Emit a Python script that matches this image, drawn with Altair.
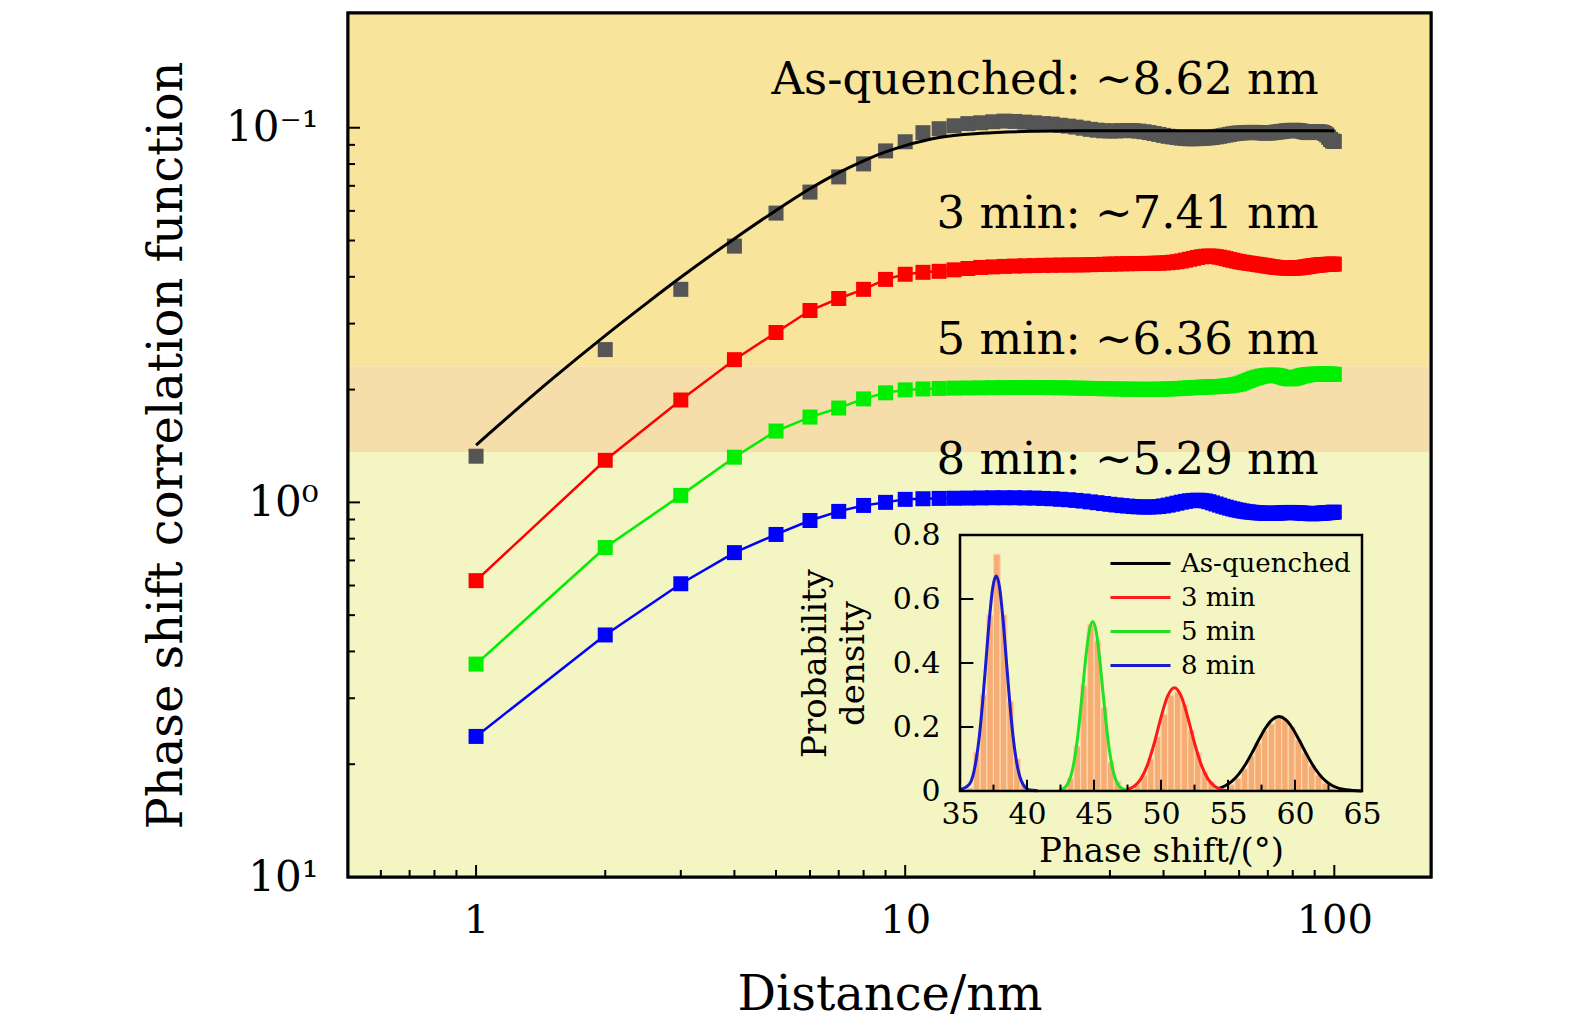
import altair as alt
import pandas as pd

FONT = "DejaVu Serif"

# ---------------- main panel data ----------------
SERIES = ["As-quenched", "3 min", "5 min", "8 min"]
SQUARE_COLORS = ["#555555", "#ff0000", "#00ee00", "#0000ff"]
LINE_COLORS = ["#000000", "#ff0000", "#00ee00", "#0000ff"]

DIST = list(range(1, 101))

AQ = [0.753, 0.391, 0.270, 0.207, 0.169, 0.1485, 0.1353, 0.1249, 0.1153, 0.1090,
      0.1031, 0.1006, 0.0988, 0.0975, 0.0970, 0.0964, 0.0960, 0.0962, 0.0966, 0.0970,
      0.0975, 0.0978, 0.0985, 0.0990, 0.0996, 0.1003, 0.1010, 0.1015, 0.1019, 0.1020,
      0.1020, 0.1018, 0.1017, 0.1018, 0.1021, 0.1025, 0.1030, 0.1036, 0.1042, 0.1048,
      0.1054, 0.1058, 0.1062, 0.1066, 0.1068, 0.1070, 0.1070, 0.1069, 0.1068, 0.1066,
      0.1064, 0.1062, 0.1058, 0.1054, 0.1050, 0.1046, 0.1042, 0.1038, 0.1035, 0.1033,
      0.1032, 0.1031, 0.1030, 0.1029, 0.1029, 0.1030, 0.1031, 0.1032, 0.1033, 0.1033,
      0.1032, 0.1030, 0.1028, 0.1026, 0.1024, 0.1022, 0.1020, 0.1018, 0.1017, 0.1016,
      0.1016, 0.1017, 0.1019, 0.1022, 0.1025, 0.1028, 0.1030, 0.1030, 0.1028, 0.1026,
      0.1025, 0.1025, 0.1027, 0.1030, 0.1036, 0.1045, 0.1060, 0.1075, 0.1085, 0.1088]

M3 = [1.618, 0.772, 0.533, 0.416, 0.352, 0.3075, 0.2856, 0.2700, 0.2540, 0.2461,
      0.2432, 0.2417, 0.2395, 0.2375, 0.2360, 0.2352, 0.2345, 0.2340, 0.2336, 0.2333,
      0.2330, 0.2328, 0.2326, 0.2325, 0.2324, 0.2323, 0.2320, 0.2318, 0.2315, 0.2312,
      0.2310, 0.2308, 0.2306, 0.2305, 0.2304, 0.2303, 0.2302, 0.2300, 0.2298, 0.2296,
      0.2292, 0.2286, 0.2278, 0.2268, 0.2256, 0.2244, 0.2232, 0.2220, 0.2210, 0.2204,
      0.2200, 0.2202, 0.2208, 0.2216, 0.2225, 0.2236, 0.2247, 0.2258, 0.2268, 0.2277,
      0.2285, 0.2292, 0.2298, 0.2304, 0.2310, 0.2316, 0.2322, 0.2328, 0.2334, 0.2340,
      0.2346, 0.2352, 0.2357, 0.2361, 0.2364, 0.2366, 0.2368, 0.2369, 0.2370, 0.2370,
      0.2369, 0.2367, 0.2364, 0.2360, 0.2355, 0.2350, 0.2345, 0.2340, 0.2336, 0.2332,
      0.2328, 0.2325, 0.2322, 0.2320, 0.2318, 0.2316, 0.2315, 0.2314, 0.2313, 0.2312]

M5 = [2.702, 1.320, 0.958, 0.7575, 0.645, 0.592, 0.560, 0.5294, 0.510, 0.5009,
      0.4980, 0.4965, 0.4955, 0.4950, 0.4945, 0.4940, 0.4938, 0.4936, 0.4935, 0.4935,
      0.4937, 0.4940, 0.4944, 0.4948, 0.4953, 0.4958, 0.4963, 0.4968, 0.4972, 0.4976,
      0.4980, 0.4983, 0.4986, 0.4988, 0.4990, 0.4991, 0.4991, 0.4990, 0.4988, 0.4985,
      0.4981, 0.4976, 0.4970, 0.4963, 0.4955, 0.4947, 0.4940, 0.4933, 0.4927, 0.4922,
      0.4918, 0.4914, 0.4910, 0.4905, 0.4898, 0.4890, 0.4880, 0.4866, 0.4850, 0.4830,
      0.4800, 0.4765, 0.4730, 0.4695, 0.4665, 0.4640, 0.4620, 0.4602, 0.4590, 0.4580,
      0.4575, 0.4575, 0.4580, 0.4592, 0.4610, 0.4632, 0.4655, 0.4672, 0.4680, 0.4675,
      0.4660, 0.4638, 0.4615, 0.4595, 0.4580, 0.4570, 0.4562, 0.4556, 0.4552, 0.4550,
      0.4548, 0.4547, 0.4546, 0.4545, 0.4545, 0.4545, 0.4546, 0.4548, 0.4550, 0.4552]

M8 = [4.215, 2.259, 1.649, 1.362, 1.218, 1.118, 1.057, 1.019, 1.000, 0.9817,
      0.978, 0.976, 0.975, 0.974, 0.973, 0.972, 0.972, 0.972, 0.973, 0.974,
      0.976, 0.978, 0.981, 0.984, 0.988, 0.992, 0.997, 1.002, 1.007, 1.012,
      1.016, 1.020, 1.023, 1.026, 1.028, 1.029, 1.029, 1.028, 1.026, 1.022,
      1.017, 1.011, 1.005, 0.999, 0.994, 0.990, 0.988, 0.987, 0.988, 0.991,
      0.996, 1.003, 1.010, 1.017, 1.024, 1.030, 1.036, 1.041, 1.046, 1.050,
      1.054, 1.057, 1.060, 1.062, 1.064, 1.066, 1.067, 1.068, 1.069, 1.070,
      1.070, 1.070, 1.069, 1.068, 1.067, 1.066, 1.065, 1.064, 1.064, 1.064,
      1.065, 1.066, 1.067, 1.068, 1.069, 1.070, 1.071, 1.072, 1.072, 1.072,
      1.071, 1.070, 1.069, 1.068, 1.067, 1.066, 1.065, 1.064, 1.063, 1.062]

# fitted curve of the as-quenched sample
FIT_AQ_D = [1, 1.5, 2, 2.5, 3, 4, 5, 6, 7, 8, 9, 10, 12, 15, 20, 25, 30, 40, 60, 100]
FIT_AQ_V = [0.7034, 0.4697, 0.3587, 0.2938, 0.2507, 0.1978, 0.1662, 0.1455, 0.1318, 0.1225,
            0.1160, 0.1116, 0.1062, 0.1035, 0.1022, 0.1019, 0.1019, 0.1019, 0.1019, 0.1019]

ANN_TEXT = ["As-quenched: ~8.62 nm", "3 min: ~7.41 nm", "5 min: ~6.36 nm", "8 min: ~5.29 nm"]
ANN_D = [92, 92, 92, 92]
ANN_V = [0.0748, 0.170, 0.368, 0.772]

X_DOMAIN = [0.503, 168.0]
Y_DOMAIN = [0.0494, 10.0]

BAND_LO = [0.0494, 0.4346, 0.7343]
BAND_HI = [0.4346, 0.7343, 10.0]
BAND_COLOR = ["#f8e49a", "#f5deaa", "#f3f6c3"]

X_LABEL_VALUES = [1, 10, 100]
X_LABELS = ["1", "10", "100"]
Y_LABEL_VALUES = [0.1, 1, 10]
Y_LABELS = ["10\u207b\u00b9", "10\u2070", "10\u00b9"]
X_MAJOR_TICKS = [1, 10, 100]
X_MINOR_TICKS = [0.6, 0.7, 0.8, 0.9, 2, 3, 4, 5, 6, 7, 8, 9, 20, 30, 40, 50, 60, 70, 80, 90]
Y_MAJOR_TICKS = [0.1, 1]
Y_MINOR_TICKS = [0.1111, 0.125, 0.1429, 0.1667, 0.2, 0.25, 0.3333, 0.5,
                 1.111, 1.25, 1.429, 1.667, 2.0, 2.5, 3.333, 5.0]

# ---------------- inset data ----------------
INSET_X_DOMAIN = [35, 65]
INSET_Y_DOMAIN = [0, 0.8]
INSET_X_LABEL_VALUES = [35, 40, 45, 50, 55, 60, 65]
INSET_X_LABELS = ["35", "40", "45", "50", "55", "60", "65"]
INSET_Y_LABEL_VALUES = [0, 0.2, 0.4, 0.6, 0.8]
INSET_Y_LABELS = ["0", "0.2", "0.4", "0.6", "0.8"]
INSET_X_MAJOR_TICKS = [40, 45, 50, 55, 60]
INSET_X_MINOR_TICKS = [37.5, 42.5, 47.5, 52.5, 57.5, 62.5]
INSET_Y_TICKS = [0.2, 0.4, 0.6]
INSET_COLORS = ["#000000", "#ff1a1a", "#22e022", "#1a1ad0"]

CURVE_AQ_X = [54.3, 54.8, 55.3, 55.8, 56.3, 56.8, 57.3, 57.8, 58.3, 58.8, 59.3, 59.8,
              60.3, 60.8, 61.3, 61.8, 62.3, 62.8, 63.8, 65.0]
CURVE_AQ_Y = [0.008, 0.0165, 0.0307, 0.0526, 0.0829, 0.120, 0.160, 0.197, 0.223, 0.2325,
              0.223, 0.197, 0.160, 0.120, 0.0829, 0.0526, 0.0307, 0.0165, 0.0037, 0.0003]
CURVE_3_X = [47.5, 48.0, 48.5, 49.0, 49.5, 50.0, 50.5, 51.0, 51.5, 52.0, 52.5, 53.0, 53.5,
             54.0, 54.5, 55.0]
CURVE_3_Y = [0.005, 0.015, 0.038, 0.0824, 0.150, 0.230, 0.297, 0.323, 0.297, 0.230, 0.150,
             0.0824, 0.038, 0.015, 0.005, 0.001]
CURVE_5_X = [42.4, 42.9, 43.4, 43.65, 43.9, 44.15, 44.4, 44.65, 44.9, 45.15, 45.4, 45.65,
             45.9, 46.15, 46.4, 46.9, 47.4]
CURVE_5_Y = [0.002, 0.014, 0.068, 0.127, 0.213, 0.317, 0.422, 0.501, 0.530, 0.501, 0.422,
             0.317, 0.213, 0.127, 0.068, 0.014, 0.002]
CURVE_8_X = [35.0, 35.7, 36.2, 36.45, 36.7, 36.95, 37.2, 37.45, 37.7, 37.95, 38.2, 38.45,
             38.7, 38.95, 39.2, 39.7, 40.2, 40.8]
CURVE_8_Y = [0.004, 0.021, 0.096, 0.174, 0.283, 0.413, 0.541, 0.637, 0.672, 0.637, 0.541,
             0.413, 0.283, 0.174, 0.096, 0.021, 0.003, 0.001]

BIN_WIDTH = 0.5
HIST_START = [35.5, 36.0, 36.5, 37.0, 37.5, 38.0, 38.5, 39.0, 39.5,
              42.5, 43.0, 43.5, 44.0, 44.5, 45.0, 45.5, 46.0, 46.5, 47.0,
              48.0, 48.5, 49.0, 49.5, 50.0, 50.5, 51.0, 51.5, 52.0, 52.5, 53.0, 53.5, 54.0,
              55.0, 55.5, 56.0, 56.5, 57.0, 57.5, 58.0, 58.5, 59.0, 59.5, 60.0, 60.5, 61.0,
              61.5, 62.0, 62.5]
HIST_H = [0.01, 0.12, 0.30, 0.55, 0.74, 0.55, 0.28, 0.10, 0.02,
          0.01, 0.04, 0.14, 0.33, 0.52, 0.47, 0.26, 0.09, 0.03, 0.01,
          0.02, 0.05, 0.10, 0.17, 0.24, 0.30, 0.31, 0.27, 0.19, 0.12, 0.06, 0.03, 0.01,
          0.02, 0.04, 0.07, 0.11, 0.15, 0.19, 0.21, 0.23, 0.225, 0.20, 0.16, 0.12, 0.08,
          0.05, 0.025, 0.01]

# ---------------- layout ----------------
W, H = 1083, 864
INSET_LEFT, INSET_RIGHT, INSET_BOTTOM, INSET_TOP = 612, 1014, 778, 522
# legend line symbol: a horizontal stroke twice as long as the symbol's nominal size
LEGEND_SYMBOL = "M-2,0H2"
LEGEND_SYMBOL_SIZE = 900


def label_expr(values, labels):
    parts = [f"datum.value == {v} ? '{l}'" for v, l in zip(values, labels)]
    return " : ".join(parts) + " : ''"


# ---------------- main panel ----------------
xs = alt.Scale(type="log", domain=X_DOMAIN, nice=False)
ys = alt.Scale(type="log", domain=Y_DOMAIN, nice=False, reverse=True)

ax_x = alt.Axis(values=X_LABEL_VALUES, labelExpr=label_expr(X_LABEL_VALUES, X_LABELS),
                title="Distance/nm", ticks=False, domain=False, grid=False,
                labelFont=FONT, labelFontSize=40, labelPadding=23, labelColor="black",
                labelFlush=False,
                titleFont=FONT, titleFontSize=48, titleFontWeight="normal",
                titlePadding=31, titleColor="black")
ax_y = alt.Axis(values=Y_LABEL_VALUES, labelExpr=label_expr(Y_LABEL_VALUES, Y_LABELS),
                title="Phase shift correlation function", ticks=False, domain=False,
                grid=False, labelFont=FONT, labelFontSize=42, labelPadding=30,
                labelColor="black", labelFlush=False, titleFont=FONT, titleFontSize=48,
                titleFontWeight="normal", titlePadding=34, titleColor="black")

bands_df = pd.DataFrame({"lo": BAND_LO, "hi": BAND_HI, "col": BAND_COLOR,
                         "x0": X_DOMAIN[0], "x1": X_DOMAIN[1]})
bands = alt.Chart(bands_df).mark_rect().encode(
    x=alt.X("x0:Q", scale=xs, axis=ax_x), x2="x1:Q",
    y=alt.Y("lo:Q", scale=ys, axis=ax_y), y2="hi:Q",
    color=alt.Color("col:N", scale=None),
)

rows = []
for name, vals, sc, lc in zip(SERIES, [AQ, M3, M5, M8], SQUARE_COLORS, LINE_COLORS):
    for d, v in zip(DIST, vals):
        rows.append({"d": d, "v": v, "series": name, "sq": sc, "lc": lc})
pts_df = pd.DataFrame(rows)

squares = alt.Chart(pts_df).mark_square(size=225, opacity=1).encode(
    x=alt.X("d:Q", scale=xs, axis=None),
    y=alt.Y("v:Q", scale=ys, axis=None),
    color=alt.Color("sq:N", scale=None),
)

col_lines = alt.Chart(pts_df[pts_df["series"] != SERIES[0]]).mark_line(strokeWidth=2.5).encode(
    x=alt.X("d:Q", scale=xs, axis=None),
    y=alt.Y("v:Q", scale=ys, axis=None),
    detail="series:N",
    color=alt.Color("lc:N", scale=None),
)

fit_df = pd.DataFrame({"d": FIT_AQ_D, "v": FIT_AQ_V})
fit_line = alt.Chart(fit_df).mark_line(strokeWidth=3, color="black", interpolate="monotone").encode(
    x=alt.X("d:Q", scale=xs, axis=None),
    y=alt.Y("v:Q", scale=ys, axis=None),
)

ann_df = pd.DataFrame({"t": ANN_TEXT, "d": ANN_D, "v": ANN_V})
ann = alt.Chart(ann_df).mark_text(align="right", baseline="middle", font=FONT,
                                  fontSize=45, color="black").encode(
    x=alt.X("d:Q", scale=xs, axis=None),
    y=alt.Y("v:Q", scale=ys, axis=None),
    text="t:N",
)

xmaj = alt.Chart(pd.DataFrame({"t": X_MAJOR_TICKS})).mark_rule(color="black", strokeWidth=2).encode(
    x=alt.X("t:Q", scale=xs, axis=None), y=alt.value(H), y2=alt.value(H - 12))
xmin = alt.Chart(pd.DataFrame({"t": X_MINOR_TICKS})).mark_rule(color="black", strokeWidth=2).encode(
    x=alt.X("t:Q", scale=xs, axis=None), y=alt.value(H), y2=alt.value(H - 7))
ymaj = alt.Chart(pd.DataFrame({"t": Y_MAJOR_TICKS})).mark_rule(color="black", strokeWidth=2).encode(
    y=alt.Y("t:Q", scale=ys, axis=None), x=alt.value(0), x2=alt.value(12))
ymin = alt.Chart(pd.DataFrame({"t": Y_MINOR_TICKS})).mark_rule(color="black", strokeWidth=2).encode(
    y=alt.Y("t:Q", scale=ys, axis=None), x=alt.value(0), x2=alt.value(7))

mframe_df = pd.DataFrame({"x0": [X_DOMAIN[0]], "x1": [X_DOMAIN[1]],
                          "y0": [Y_DOMAIN[0]], "y1": [Y_DOMAIN[1]]})
main_frame = alt.Chart(mframe_df).mark_rect(fillOpacity=0, stroke="black", strokeWidth=3).encode(
    x=alt.X("x0:Q", scale=xs, axis=None), x2="x1:Q",
    y=alt.Y("y0:Q", scale=ys, axis=None), y2="y1:Q",
)

# ---------------- inset ----------------
ixs = alt.Scale(domain=INSET_X_DOMAIN, range=[INSET_LEFT, INSET_RIGHT], nice=False, zero=False)
iys = alt.Scale(domain=INSET_Y_DOMAIN, range=[INSET_BOTTOM, INSET_TOP], nice=False, zero=False)

iax_x = alt.Axis(values=INSET_X_LABEL_VALUES, orient="bottom", offset=-(H - INSET_BOTTOM),
                 labelExpr=label_expr(INSET_X_LABEL_VALUES, INSET_X_LABELS),
                 ticks=False, domain=False, grid=False, labelFlush=False,
                 labelFont=FONT, labelFontSize=30, labelPadding=8, labelColor="black",
                 title="Phase shift/(\u00b0)", titleFont=FONT, titleFontSize=34,
                 titleFontWeight="normal", titlePadding=5, titleColor="black", zindex=2)
iax_y = alt.Axis(values=INSET_Y_LABEL_VALUES, orient="left", offset=-INSET_LEFT,
                 labelExpr=label_expr(INSET_Y_LABEL_VALUES, INSET_Y_LABELS),
                 ticks=False, domain=False, grid=False, labelFlush=False,
                 labelFont=FONT, labelFontSize=30, labelPadding=20, labelColor="black",
                 title=["Probability", "density"], titleFont=FONT, titleFontSize=34,
                 titleFontWeight="normal", titlePadding=22, titleColor="black",
                 titleLineHeight=38, zindex=2)

hist_df = pd.DataFrame({"x0": HIST_START, "h": HIST_H})
hist_df["x1"] = hist_df["x0"] + BIN_WIDTH
hist_df["base"] = 0.0
bars = alt.Chart(hist_df).mark_rect(fill="#f5ad74", stroke="#fbd7b0", strokeWidth=1.2).encode(
    x=alt.X("x0:Q", scale=ixs, axis=iax_x), x2="x1:Q",
    y=alt.Y("h:Q", scale=iys, axis=iax_y), y2="base:Q",
)

crows = []
for name, cx, cy in zip(SERIES, [CURVE_AQ_X, CURVE_3_X, CURVE_5_X, CURVE_8_X],
                        [CURVE_AQ_Y, CURVE_3_Y, CURVE_5_Y, CURVE_8_Y]):
    for a, b in zip(cx, cy):
        crows.append({"x": a, "y": b, "series": name})
curve_df = pd.DataFrame(crows)
curves = alt.Chart(curve_df).mark_line(strokeWidth=3, interpolate="monotone").encode(
    x=alt.X("x:Q", scale=ixs, axis=None),
    y=alt.Y("y:Q", scale=iys, axis=None),
    color=alt.Color("series:N", scale=alt.Scale(domain=SERIES, range=INSET_COLORS),
                    sort=SERIES,
                    legend=alt.Legend(title=None, orient="none", legendX=776, legendY=534,
                                      symbolType=LEGEND_SYMBOL, symbolSize=LEGEND_SYMBOL_SIZE,
                                      symbolStrokeWidth=3, labelFont=FONT,
                                      labelFontSize=26, labelColor="black",
                                      labelOffset=24, rowPadding=4, padding=0,
                                      labelLimit=400)),
)

frame_df = pd.DataFrame({"x0": [INSET_X_DOMAIN[0]], "x1": [INSET_X_DOMAIN[1]],
                         "y0": [INSET_Y_DOMAIN[0]], "y1": [INSET_Y_DOMAIN[1]]})
frame = alt.Chart(frame_df).mark_rect(fillOpacity=0, stroke="black", strokeWidth=2.5).encode(
    x=alt.X("x0:Q", scale=ixs, axis=None), x2="x1:Q",
    y=alt.Y("y0:Q", scale=iys, axis=None), y2="y1:Q",
)

ixt_df = pd.DataFrame({"t": INSET_X_MAJOR_TICKS + INSET_X_MINOR_TICKS,
                       "len": [0.035] * len(INSET_X_MAJOR_TICKS) + [0.02] * len(INSET_X_MINOR_TICKS)})
ixt_df["base"] = 0.0
ixticks = alt.Chart(ixt_df).mark_rule(color="black", strokeWidth=2).encode(
    x=alt.X("t:Q", scale=ixs, axis=None),
    y=alt.Y("base:Q", scale=iys, axis=None), y2="len:Q",
)
iyt_df = pd.DataFrame({"t": INSET_Y_TICKS})
iyt_df["x0"] = INSET_X_DOMAIN[0]
iyt_df["x1"] = INSET_X_DOMAIN[0] + 1.0
iyticks = alt.Chart(iyt_df).mark_rule(color="black", strokeWidth=2).encode(
    y=alt.Y("t:Q", scale=iys, axis=None),
    x=alt.X("x0:Q", scale=ixs, axis=None), x2="x1:Q",
)

chart = alt.layer(
    bands, squares, col_lines, fit_line, ann, xmaj, xmin, ymaj, ymin, main_frame,
    bars, curves, frame, ixticks, iyticks,
).resolve_scale(
    x="independent", y="independent", color="independent"
).properties(
    width=W, height=H,
    autosize=alt.AutoSizeParams(type="none"),
    padding={"left": 340, "top": 5, "right": 100, "bottom": 150},
    background="white",
).configure_view(stroke="black", strokeWidth=3)

chart.save("out.html", embed_options={"renderer": "svg", "actions": False})
